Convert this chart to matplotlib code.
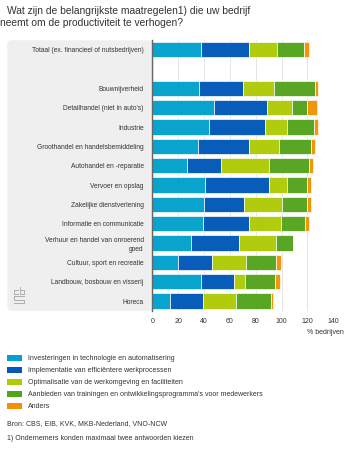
import numpy as np
import matplotlib
matplotlib.use("Agg")
from matplotlib import pyplot as plt
from matplotlib.patches import FancyBboxPatch, Rectangle

plt.rcParams['font.family'] = ['Liberation Sans', 'DejaVu Sans']

# data
categories = ["Totaal (ex. financieel of nutsbedrijven)", "",
              "Bouwnijverheid", "Detailhandel (niet in auto's)", "Industrie",
              "Groothandel en handelsbemiddeling", "Autohandel en -reparatie",
              "Vervoer en opslag", "Zakelijke dienstverlening",
              "Informatie en communicatie",
              "Verhuur en handel van onroerend\ngoed",
              "Cultuur, sport en recreatie", "Landbouw, bosbouw en visserij",
              "Horeca"]
technologie = [38, 0, 36, 47.5, 44, 35.5, 26.5, 40.5, 40, 39.5, 30, 19.5, 38, 14]
werkprocessen = [37, 0, 34, 41.5, 43, 39.5, 26.5, 49.5, 31, 35.5, 37, 26.5, 25.5, 25]
werkomgeving = [21.5, 0, 24, 19, 17.5, 23, 37.5, 14.5, 29, 24.5, 28.5, 26.5, 8, 26]
trainingen = [21, 0, 32, 11.5, 20.5, 24.5, 31, 15, 19.5, 18.5, 13, 23.5, 23.5, 26.5]
anders = [3.5, 0, 2, 8, 3, 3.5, 2.5, 3.5, 3.5, 3, 0, 3.5, 3.5, 2]

series = [technologie, werkprocessen, werkomgeving, trainingen, anders]
names = ["Investeringen in technologie en automatisering",
         "Implementatie van efficiëntere werkprocessen",
         "Optimalisatie van de werkomgeving en faciliteiten",
         "Aanbieden van trainingen en ontwikkelingsprogramma's voor medewerkers",
         "Anders"]
colors = ["#00a1cd", "#0058b8", "#afcb05", "#53a31d", "#f39200"]
ticks = [0, 20, 40, 60, 80, 100, 120, 140]

W, H = 360, 450
fig = plt.figure(figsize=(W / 100, H / 100), dpi=100)
TXT = "#333333"
FS = 5.05
LABEL_FS = 4.8

# grey panel behind the labels
bg = fig.add_axes([0, 0, 1, 1])
bg.set_xlim(0, W)
bg.set_ylim(H, 0)
bg.axis("off")
bg.add_patch(FancyBboxPatch((9, 42), 143, 267, boxstyle="round,pad=0,rounding_size=2.5",
                            mutation_aspect=1, fc="#efefef", ec="#efefef", lw=2.5))

ax = fig.add_axes([152.3 / W, 1 - 310.7 / H, 181 / W, 270.7 / H])
ax.patch.set_alpha(0)
y = np.arange(len(categories))
left = np.zeros(len(categories))
for vals, c, n in zip(series, colors, names):
    ax.barh(y, vals, left=left, height=0.78, color=c, edgecolor="white", linewidth=0.5,
            alpha=0.97, label=n, zorder=3)
    left += np.array(vals)

ax.set_xlim(0, 140)
ax.set_ylim(len(categories) - 0.5, -0.5)
ax.set_xticks(ticks)
ax.set_yticks(y)
ax.set_yticklabels(categories, fontsize=LABEL_FS, color=TXT, linespacing=1.45)
ax.tick_params(axis="y", length=0, pad=6.3)
ax.tick_params(axis="x", length=0, pad=5, labelsize=FS, labelcolor=TXT)
ax.grid(axis="x", color="#e6e6e6", linewidth=0.7, zorder=0)
for s in ["top", "right", "bottom"]:
    ax.spines[s].set_visible(False)
ax.spines["left"].set_color("#666666")
ax.spines["left"].set_linewidth(1)
ax.spines["left"].set_zorder(5)

# title and axis caption
bg.text(7, 10.5, "Wat zijn de belangrijkste maatregelen1) die uw bedrijf", fontsize=7.35,
        color=TXT, va="center")
bg.text(0, 22.5, "neemt om de productiviteit te verhogen?", fontsize=7.35, color=TXT, va="center")
bg.text(344, 333, "% bedrijven", fontsize=FS, color=TXT, ha="right", va="center")

# legend, by hand to get the spacing
for i, (c, n) in enumerate(zip(colors, names)):
    yy = 358 + i * 12
    bg.add_patch(Rectangle((7, yy - 3), 15, 6, fc=c, ec="none"))
    bg.text(28, yy, n, fontsize=FS, color=TXT, va="center")

bg.text(7, 424, "Bron: CBS, EIB, KVK, MKB-Nederland, VNO-NCW", fontsize=FS, color=TXT, va="center")
bg.text(7, 438.5, "1) Ondernemers konden maximaal twee antwoorden kiezen", fontsize=FS,
        color=TXT, va="center")

# cbs logo, rough
logo = "#b0b0b0"
for (x0, y0, w, h) in [(14, 290, 5, 1), (14, 290, 1, 5), (14, 294, 5, 1),
                       (20, 287, 1, 8), (20, 290, 5, 1), (24, 290, 1, 5), (20, 294, 5, 1),
                       (14, 296, 11, 1), (14, 296, 1, 4), (14, 299.5, 11, 1),
                       (24, 299.5, 1, 4), (14, 303, 11, 1)]:
    bg.add_patch(Rectangle((x0, y0), w, h, fc=logo, ec="none"))

fig.savefig("out.png", dpi=100)
